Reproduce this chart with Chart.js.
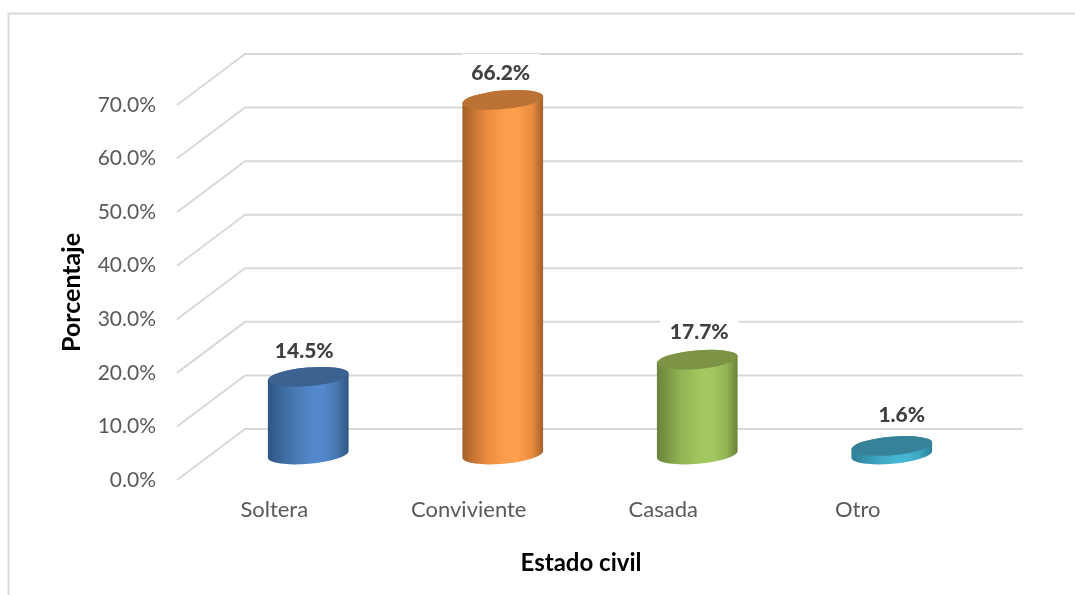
<!DOCTYPE html>
<html lang="es">
<head>
    <meta charset="UTF-8">
    <title>Estado civil</title>
    <script src="https://cdn.jsdelivr.net/npm/chart.js"></script>
    <style>
        html, body {
            margin: 0;
            padding: 0;
            background: #ffffff;
        }
        #chart {
            display: block;
        }
    </style>
</head>
<body>
    <canvas id="chart" width="1075" height="595"></canvas>

    <script>
        const categories = ['Soltera', 'Conviviente', 'Casada', 'Otro'];
        const percentages = [14.5, 66.2, 17.7, 1.6];

        // cylinder shades: side edge, side middle, side highlight, top cap
        const edgeColors = ['#2e5583', '#a3602a', '#6a8239', '#2b7d95'];
        const midColors = ['#4676ae', '#ea8c3f', '#92b454', '#3da2be'];
        const brightColors = ['#5389cc', '#fd9f4c', '#a4c860', '#47b6d4'];
        const capColors = ['#3b6291', '#bb7335', '#7d9446', '#368298'];

        // nudges for the value labels, [x, y] from the top of each cylinder
        const labelNudge = [[-4, -26], [-2, -27], [2, -27], [10, -31]];

        // how far the back wall sits from the front edge of the floor
        const depthX = 68;
        const depthY = -51;

        const gridColor = '#d9d9d9';
        const textFont = 'Lato, "Open Sans", sans-serif';

        const backdrop = {
            id: 'backdrop',
            beforeDraw(chart) {
                const ctx = chart.ctx;
                ctx.save();
                ctx.strokeStyle = gridColor;
                ctx.lineWidth = 2;
                ctx.beginPath();
                ctx.moveTo(8.5, 595);
                ctx.lineTo(8.5, 13.5);
                ctx.lineTo(1075, 13.5);
                ctx.stroke();
                ctx.restore();
            },
            beforeDatasetsDraw(chart) {
                const ctx = chart.ctx;
                const xs = chart.scales.x;
                const ys = chart.scales.y;
                ctx.save();
                ctx.strokeStyle = gridColor;
                ctx.lineWidth = 2;
                ys.ticks.forEach(t => {
                    const y = ys.getPixelForValue(t.value);
                    ctx.beginPath();
                    ctx.moveTo(xs.left, y);
                    ctx.lineTo(xs.left + depthX, y + depthY);
                    ctx.lineTo(xs.right + depthX, y + depthY);
                    ctx.stroke();
                });
                ctx.restore();
            }
        };

        const cylinders = {
            id: 'cylinders',
            afterDatasetsDraw(chart) {
                const ctx = chart.ctx;
                const meta = chart.getDatasetMeta(0);
                const tilt = -5 * Math.PI / 180;

                meta.data.forEach((bar, i) => {
                    const cx = bar.x + depthX / 2;
                    const top = bar.y + depthY / 2;
                    const base = bar.base + depthY / 2;
                    const rx = bar.width / 2;
                    const ry = 9.3;

                    // white box behind the value label
                    const lx = bar.x + depthX / 2 + labelNudge[i][0];
                    const ly = top + labelNudge[i][1];
                    ctx.fillStyle = '#ffffff';
                    ctx.fillRect(lx - 39, ly - 19, 78, 32);
                    ctx.fillStyle = '#404040';
                    ctx.font = '900 21px ' + textFont;
                    ctx.textAlign = 'center';
                    ctx.textBaseline = 'middle';
                    ctx.fillText(percentages[i].toFixed(1) + '%', lx, ly);

                    const side = ctx.createLinearGradient(cx - rx, 0, cx + rx, 0);
                    side.addColorStop(0, edgeColors[i]);
                    side.addColorStop(0.3, midColors[i]);
                    side.addColorStop(0.55, brightColors[i]);
                    side.addColorStop(0.68, brightColors[i]);
                    side.addColorStop(0.86, midColors[i]);
                    side.addColorStop(1, edgeColors[i]);

                    ctx.beginPath();
                    ctx.ellipse(cx, base, rx, ry, tilt, 0, Math.PI);
                    ctx.ellipse(cx, top, rx, ry, tilt, Math.PI, 2 * Math.PI);
                    ctx.closePath();
                    ctx.fillStyle = side;
                    ctx.fill();

                    ctx.beginPath();
                    ctx.ellipse(cx, top, rx, ry, tilt, 0, 2 * Math.PI);
                    ctx.fillStyle = capColors[i];
                    ctx.fill();
                });

                // x title sits under the whole floor, not under the front edge
                const xs = chart.scales.x;
                ctx.fillStyle = '#000000';
                ctx.font = 'bold 24px ' + textFont;
                ctx.textAlign = 'center';
                ctx.textBaseline = 'middle';
                ctx.fillText('Estado civil', (xs.left + xs.right) / 2 + 15, 563);
            }
        };

        new Chart(document.getElementById('chart'), {
            type: 'bar',
            data: {
                labels: categories,
                datasets: [{
                    data: percentages,
                    backgroundColor: 'rgba(0,0,0,0)',
                    barThickness: 81
                }]
            },
            plugins: [backdrop, cylinders],
            options: {
                responsive: false,
                animation: false,
                devicePixelRatio: 1,
                layout: {
                    padding: { top: 105, right: 120, bottom: 0, left: 0 }
                },
                plugins: {
                    legend: { display: false },
                    tooltip: { enabled: false }
                },
                scales: {
                    x: {
                        grid: { display: false },
                        border: { display: false },
                        ticks: {
                            color: '#595959',
                            padding: 9,
                            font: { family: textFont, size: 22 }
                        },
                        afterFit(scale) {
                            scale.height = 115;
                        }
                    },
                    y: {
                        min: 0,
                        max: 70,
                        grid: { display: false },
                        border: { display: false },
                        ticks: {
                            stepSize: 10,
                            color: '#595959',
                            padding: 13,
                            font: { family: textFont, size: 21 },
                            callback: value => value.toFixed(1) + '%'
                        },
                        title: {
                            display: true,
                            text: 'Porcentaje',
                            color: '#000000',
                            padding: { top: 57, bottom: 0 },
                            font: { family: textFont, size: 25, weight: 'bold' }
                        },
                        afterFit(scale) {
                            scale.width = 177;
                        }
                    }
                }
            }
        });
    </script>
</body>
</html>
